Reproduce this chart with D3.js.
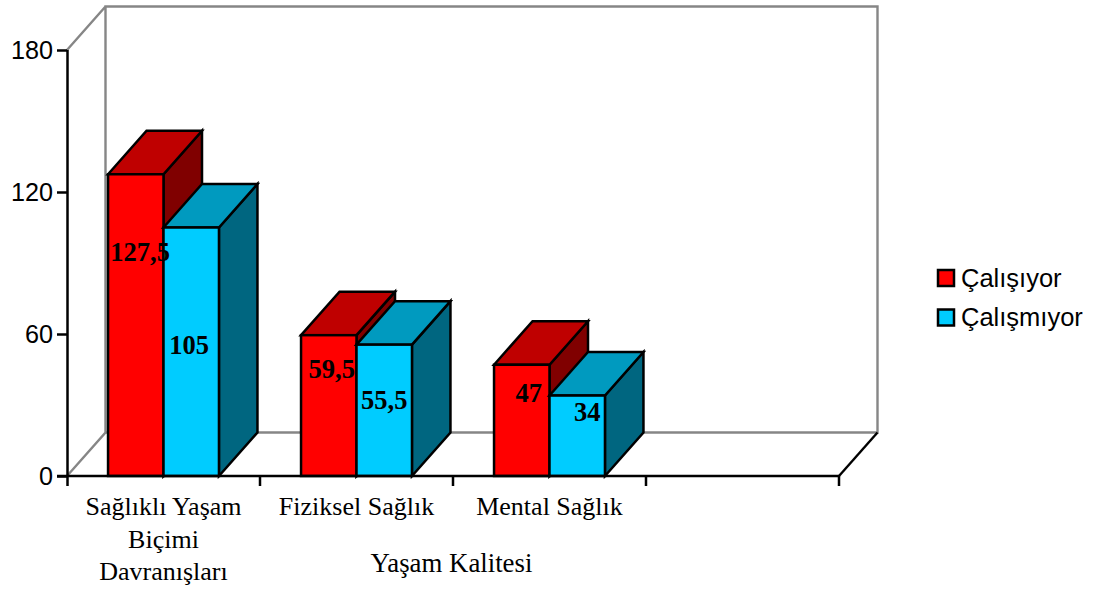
<!DOCTYPE html>
<html lang="tr">
<head>
<meta charset="utf-8">
<style>
html, body { margin: 0; padding: 0; background: #fff; }
svg { display: block; }
</style>
<script src="https://cdn.jsdelivr.net/npm/d3@7/dist/d3.min.js"></script>
</head>
<body>
<svg id="chart" width="1112" height="591"></svg>
<script>
// Survey scores per quality-of-life dimension, split by employment status.
const categories = ["Sağlıklı Yaşam Biçimi Davranışları", "Fiziksel Sağlık", "Mental Sağlık", ""];
const categoryLines = [["Sağlıklı Yaşam", "Biçimi", "Davranışları"], ["Fiziksel Sağlık"], ["Mental Sağlık"], []];
const seriesNames = ["Çalışıyor", "Çalışmıyor"];
const calisiyor = [127.5, 59.5, 47];
const calismiyor = [105, 55.5, 34];
const valueLabels = [["127,5", "59,5", "47"], ["105", "55,5", "34"]];
const yTicks = [0, 60, 120, 180];
const axisTitle = "Yaşam Kalitesi";
const faceColors = [
  { front: "#ff0000", top: "#bf0000", side: "#800000" },
  { front: "#00ccff", top: "#009abf", side: "#006680" }
];

// Hand-placed data labels: offset from bar centre (x) and from bar top (y)
const labelShiftX = [[4.3, 3, 7], [-2, 0, 10]];
const labelDropY = [[86.7, 43, 37.2], [126.5, 64.4, 25.5]];

const svg = d3.select("#chart");
const SERIF = "'Liberation Serif', 'Times New Roman', serif";
const SANS = "'Liberation Sans', Arial, sans-serif";

const depth = { dx: 38.5, dy: -43.5 };
const y = d3.scaleLinear().domain([0, 180]).range([476, 50]);
const x0 = d3.scaleBand().domain(categories).range([67, 839]);
const x1 = d3.scaleBand().domain([0, 1]).range([0, x0.bandwidth()]).paddingInner(0).paddingOuter(0.74);

const poly = pts => pts.map(p => p.join(",")).join(" ");
const back = (px, py) => [px + depth.dx, py + depth.dy];

// Back walls and floor of the 3D frame
const wallColor = "#868686";
const wall = svg.append("g").attr("fill", "none").attr("stroke", wallColor).attr("stroke-width", 2.4);
const [bx0, byTop] = back(67, y(180));
const [bx1, byBot] = back(839, y(0));
wall.append("path").attr("d", `M${67},${y(0)}L${bx0},${byBot}V${byTop}H${bx1}V${byBot}H${bx0}M${67},${y(180)}L${bx0},${byTop}`);

// Floor's right edge belongs to the axis plane
svg.append("line").attr("x1", 839).attr("y1", y(0)).attr("x2", bx1).attr("y2", byBot)
  .attr("stroke", "#000").attr("stroke-width", 2.4);

// Bars: top and side faces first, front face last, left series over right series
const rows = [calisiyor, calismiyor];
const barGroup = svg.append("g").attr("stroke", "#000").attr("stroke-width", 2.5).attr("stroke-linejoin", "miter");
categories.slice(0, 3).forEach((cat, c) => {
  rows.forEach((vals, s) => {
    const v = vals[c];
    const l = x0(cat) + x1(s), r = l + x1.bandwidth();
    const t = y(v), b = y(0);
    const g = barGroup.append("g").attr("class", "bar");
    g.append("polygon").attr("points", poly([[r, t], back(r, t), back(r, b), [r, b]])).attr("fill", faceColors[s].side);
    g.append("polygon").attr("points", poly([[l, t], back(l, t), back(r, t), [r, t]])).attr("fill", faceColors[s].top);
    g.append("rect").attr("x", l).attr("y", t).attr("width", r - l).attr("height", b - t).attr("fill", faceColors[s].front);
  });
});

// Value axis
const yAxis = svg.append("g").attr("transform", "translate(67,0)")
  .call(d3.axisLeft(y).tickValues(yTicks).tickSize(10).tickPadding(4).tickFormat(d3.format("d")));
yAxis.selectAll("path").attr("stroke", "#000").attr("stroke-width", 2.5).attr("d", `M0.5,${y(180)}V${y(0) + 10}`);
yAxis.selectAll("line").attr("stroke", "#000").attr("stroke-width", 2.5).attr("x1", 0);
yAxis.selectAll("text").attr("font-family", SANS).attr("font-size", 25.2).attr("fill", "#000");

// Category axis with ticks on the band boundaries
const xAxisLine = svg.append("g").attr("stroke", "#000").attr("stroke-width", 2.5);
xAxisLine.append("line").attr("x1", 57).attr("x2", 839).attr("y1", y(0)).attr("y2", y(0));
xAxisLine.selectAll(".tick").data(categories.slice(1).map(c => x0(c)).concat([x0.range()[1]]))
  .join("line").attr("class", "tick")
  .attr("x1", d => d).attr("x2", d => d).attr("y1", y(0)).attr("y2", y(0) + 10);

const catText = svg.append("g").attr("font-family", SERIF).attr("font-size", 26).attr("text-anchor", "middle").attr("fill", "#000");
categories.forEach((cat, c) => {
  const cx = x0(cat) + x0.bandwidth() / 2;
  categoryLines[c].forEach((line, i) => {
    catText.append("text").attr("x", cx).attr("y", 515 + i * 32.5).text(line);
  });
});
svg.append("text").attr("x", 451.5).attr("y", 572).attr("text-anchor", "middle")
  .attr("font-family", SERIF).attr("font-size", 26.8).attr("fill", "#000").text(axisTitle);

// Value labels on the front faces
const labelGroup = svg.append("g").attr("font-family", SERIF).attr("font-weight", "bold").attr("font-size", 26.5).attr("text-anchor", "middle").attr("fill", "#000");
rows.forEach((vals, s) => {
  vals.forEach((v, c) => {
    const cx = x0(categories[c]) + x1(s) + x1.bandwidth() / 2;
    labelGroup.append("text").attr("x", cx + labelShiftX[s][c]).attr("y", y(v) + labelDropY[s][c]).text(valueLabels[s][c]);
  });
});

// Legend
const legend = svg.append("g");
seriesNames.forEach((name, i) => {
  const ly = 270 + i * 39.5;
  legend.append("rect").attr("x", 938).attr("y", ly).attr("width", 16).attr("height", 16)
    .attr("fill", faceColors[i].front).attr("stroke", "#000").attr("stroke-width", 2.5);
  legend.append("text").attr("x", 961).attr("y", ly + 16.7).attr("font-family", SANS).attr("font-size", 25.5).attr("fill", "#000").text(name);
});
</script>
</body>
</html>
